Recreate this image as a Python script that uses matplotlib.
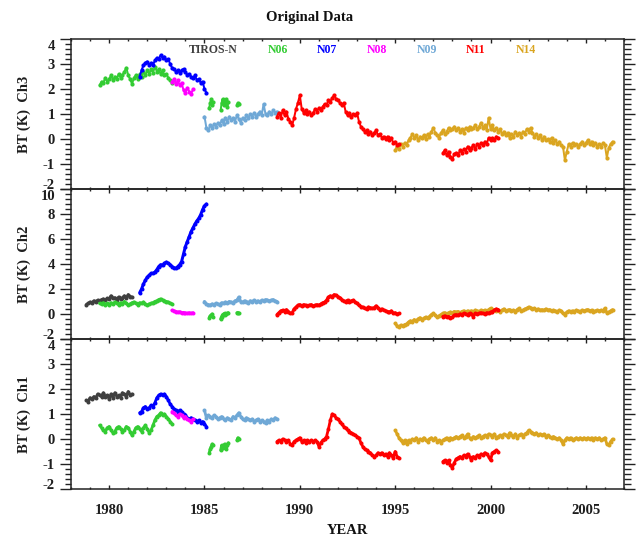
import numpy as np
import matplotlib
matplotlib.use('Agg')
import matplotlib.pyplot as plt
from matplotlib.ticker import MultipleLocator

# ---------------- data (BT anomalies, K) ----------------
satellites = ['TIROS-N', 'N06', 'N07', 'N08', 'N09', 'N11', 'N14']
sat_colors = ['#3f3f3f', '#33cc33', '#0000ff', '#ff00ff', '#6fa8d6', '#ff0000', '#daa520']

step = 0.1
tiros_start = 1978.8
n06a_start = 1979.5
n07_start = 1981.6
n08_start = 1983.3
n09_start = 1985.0
n11a_start = 1988.8
n11b_start = 1997.5
n14_start = 1995.0
n06b_years = [1985.25, 1985.3, 1985.35, 1985.4, 1985.45, 1985.85, 1985.9, 1985.95, 1986.0,
              1986.05, 1986.1, 1986.15, 1986.2, 1986.25, 1986.7, 1986.75, 1986.8]

# Channel 3
ch3_n06a = [2.15, 2.30, 2.25, 2.45, 2.30, 2.40, 2.55, 2.35, 2.50, 2.40, 2.60, 2.45, 2.55, 2.70,
            2.85, 2.55, 2.40, 2.20, 2.45, 2.55, 2.40, 2.60, 2.50, 2.70, 2.55, 2.75, 2.60, 2.80,
            2.65, 2.90, 2.70, 2.80, 2.60, 2.75, 2.55, 2.60, 2.45, 2.35, 2.25]
ch3_n07 = [2.50, 2.75, 2.95, 3.05, 3.10, 2.95, 3.05, 2.95, 3.15, 3.25, 3.20, 3.35, 3.25, 3.30,
           3.15, 3.20, 3.00, 2.85, 2.80, 2.70, 2.75, 2.65, 2.75, 2.80, 2.70, 2.55, 2.60, 2.50,
           2.45, 2.55, 2.35, 2.40, 2.25, 2.30, 2.00, 1.85]
ch3_n08 = [2.30, 2.40, 2.20, 2.35, 2.15, 2.25, 1.95, 1.85, 2.05, 1.90, 1.80, 2.00]
ch3_n06b = [1.25, 1.45, 1.60, 1.35, 1.50, 1.15, 1.45, 1.60, 1.35, 1.55, 1.40, 1.60, 1.30, 1.50,
            1.35, 1.45, 1.40]
ch3_n09 = [0.90, 0.45, 0.35, 0.55, 0.45, 0.60, 0.50, 0.65, 0.55, 0.75, 0.60, 0.85, 0.70, 0.90,
           0.75, 0.85, 0.70, 0.95, 0.80, 0.65, 0.85, 0.75, 0.95, 0.85, 1.00, 0.90, 1.05, 0.90,
           1.00, 1.10, 0.95, 1.40, 1.00, 0.95, 1.10, 1.00, 1.15, 1.05, 1.10]
ch3_n11a = [0.90, 1.05, 0.85, 1.15, 0.95, 1.10, 0.80, 0.70, 0.55, 0.85, 1.20, 1.45, 1.75, 1.20,
            1.05, 1.15, 1.00, 1.10, 0.95, 1.05, 1.20, 1.10, 1.25, 1.15, 1.30, 1.40, 1.35, 1.55,
            1.50, 1.65, 1.75, 1.60, 1.55, 1.45, 1.35, 1.45, 1.10, 0.95, 1.05, 0.90, 1.00, 0.95,
            1.05, 0.70, 0.50, 0.40, 0.30, 0.35, 0.20, 0.30, 0.15, 0.25, 0.35, 0.15, 0.20, 0.05,
            0.10, 0.00, 0.10, -0.05, 0.05, -0.15, -0.10, -0.25, -0.20]
ch3_n11b = [-0.55, -0.45, -0.65, -0.50, -0.70, -0.80, -0.60, -0.55, -0.65, -0.45, -0.55, -0.40,
            -0.50, -0.30, -0.45, -0.35, -0.25, -0.40, -0.20, -0.30, -0.15, -0.25, -0.10, -0.20,
            0.05, -0.05, 0.05, -0.05, 0.10, 0.05]
ch3_n14 = [-0.45, -0.30, -0.40, -0.20, -0.30, -0.15, -0.25, -0.05, 0.05, 0.20, 0.05, 0.15, -0.05,
           0.10, 0.05, 0.15, 0.00, 0.20, 0.10, 0.30, 0.45, 0.25, 0.15, 0.05, 0.25, 0.35, 0.20,
           0.30, 0.45, 0.35, 0.40, 0.50, 0.35, 0.45, 0.30, 0.40, 0.25, 0.45, 0.35, 0.50, 0.40,
           0.45, 0.55, 0.40, 0.50, 0.65, 0.45, 0.55, 0.35, 0.85, 0.40, 0.55, 0.35, 0.45, 0.30,
           0.40, 0.20, 0.30, 0.15, 0.25, 0.05, 0.20, 0.10, 0.30, 0.15, 0.25, 0.10, 0.30, 0.20,
           0.40, 0.30, 0.45, 0.25, 0.10, 0.20, 0.05, 0.15, -0.05, 0.10, -0.05, 0.00, -0.10, 0.05,
           -0.15, -0.05, -0.20, -0.10, -0.25, -0.30, -0.85, -0.50, -0.20, -0.30, -0.15, -0.25,
           -0.20, -0.30, -0.20, -0.10, -0.25, -0.15, -0.05, -0.20, -0.10, -0.25, -0.15, -0.30,
           -0.20, -0.30, -0.15, -0.25, -0.75, -0.35, -0.20, -0.10]

# Channel 2
ch2_tiros = [0.75, 0.85, 0.95, 0.90, 1.05, 1.00, 1.10, 1.05, 1.15, 1.20, 1.10, 1.25, 1.20, 1.45,
             1.25, 1.30, 1.15, 1.35, 1.20, 1.30, 1.45, 1.25, 1.55, 1.40, 1.35]
ch2_n06a = [0.85, 0.80, 0.90, 0.75, 0.85, 0.70, 0.90, 0.80, 0.95, 0.85, 0.75, 0.90, 0.80, 1.00,
            0.85, 0.70, 0.80, 0.90, 0.95, 0.85, 0.75, 0.90, 0.85, 0.95, 0.80, 0.70, 0.80, 0.85,
            0.90, 1.00, 1.05, 1.15, 1.20, 1.10, 1.05, 1.00, 0.95, 0.85, 0.80]
ch2_n07 = [1.70, 2.00, 2.40, 2.70, 2.95, 3.10, 3.25, 3.25, 3.35, 3.55, 3.80, 3.95, 3.90, 4.05,
           4.15, 4.05, 3.95, 3.80, 3.70, 3.65, 3.80, 3.95, 4.20, 4.80, 5.40, 5.80, 6.20, 6.60,
           6.90, 7.20, 7.45, 7.65, 7.95, 8.35, 8.65, 8.80]
ch2_n08 = [0.30, 0.25, 0.20, 0.15, 0.18, 0.10, 0.12, 0.08, 0.05, 0.10, 0.05, 0.10]
ch2_n06b = [-0.30, -0.15, -0.10, 0.00, -0.25, -0.40, -0.20, -0.05, 0.00, 0.05, -0.10, 0.00, 0.05,
            0.10, 0.10, 0.12, 0.08]
ch2_n09 = [1.00, 0.80, 0.75, 0.70, 0.80, 0.75, 0.85, 0.80, 0.75, 0.90, 0.85, 0.95, 0.90, 1.00,
           0.95, 0.90, 1.05, 1.10, 1.35, 1.00, 0.95, 1.05, 1.00, 0.90, 1.05, 1.00, 1.10, 1.00,
           1.05, 0.95, 1.10, 1.05, 1.15, 1.10, 1.05, 1.10, 1.15, 1.05, 1.00]
ch2_n11a = [-0.05, 0.10, 0.25, 0.30, 0.20, 0.35, 0.20, 0.05, 0.10, 0.40, 0.55, 0.70, 0.75, 0.65,
            0.75, 0.70, 0.65, 0.70, 0.75, 0.65, 0.70, 0.75, 0.70, 0.80, 0.90, 0.95, 1.10, 1.35,
            1.45, 1.40, 1.55, 1.50, 1.40, 1.30, 1.15, 1.05, 1.00, 1.10, 0.95, 1.05, 1.10, 0.95,
            0.85, 0.70, 0.60, 0.55, 0.45, 0.40, 0.55, 0.50, 0.45, 0.50, 0.65, 0.50, 0.35, 0.40,
            0.30, 0.25, 0.20, 0.15, 0.25, 0.05, 0.10, 0.00, 0.05]
ch2_n11b = [-0.20, -0.15, -0.25, -0.20, -0.30, -0.25, -0.10, -0.05, -0.10, 0.00, -0.05, 0.05, 0.00,
            -0.05, 0.05, 0.00, -0.20, 0.05, 0.00, 0.05, 0.10, 0.05, 0.00, 0.10, 0.05, 0.15, 0.20,
            0.30, 0.40, 0.35]
ch2_n14 = [-0.75, -0.95, -1.00, -0.90, -0.95, -0.85, -0.80, -0.65, -0.55, -0.60, -0.45, -0.55,
           -0.40, -0.30, -0.45, -0.35, -0.25, -0.35, -0.20, -0.05, 0.05, -0.10, -0.25, -0.15,
           -0.05, 0.05, 0.10, 0.00, 0.10, 0.15, 0.10, 0.20, 0.15, 0.20, 0.10, 0.20, 0.25, 0.15,
           0.25, 0.20, 0.25, 0.20, 0.30, 0.25, 0.20, 0.30, 0.25, 0.30, 0.20, 0.35, 0.45, 0.30,
           0.35, 0.25, 0.30, 0.20, 0.30, 0.40, 0.25, 0.30, 0.35, 0.25, 0.30, 0.20, 0.35, 0.45,
           0.25, 0.30, 0.40, 0.45, 0.55, 0.50, 0.40, 0.45, 0.35, 0.40, 0.30, 0.35, 0.30, 0.40,
           0.30, 0.35, 0.25, 0.30, 0.25, 0.20, 0.30, 0.25, 0.05, -0.05, 0.15, 0.25, 0.20, 0.25,
           0.20, 0.30, 0.25, 0.20, 0.30, 0.25, 0.30, 0.35, 0.25, 0.30, 0.20, 0.25, 0.30, 0.25,
           0.30, 0.25, 0.45, 0.10, 0.15, 0.25, 0.35]

# Channel 1
ch1_tiros = [1.55, 1.50, 1.65, 1.60, 1.70, 1.65, 1.80, 1.75, 1.70, 1.85, 1.70, 1.75, 1.60, 1.80,
             1.65, 1.85, 1.70, 1.75, 1.65, 1.85, 1.80, 1.70, 1.90, 1.75, 1.80]
ch1_n06a = [0.55, 0.45, 0.35, 0.30, 0.45, 0.50, 0.35, 0.25, 0.30, 0.45, 0.50, 0.40, 0.30, 0.35,
            0.50, 0.45, 0.30, 0.15, 0.30, 0.45, 0.50, 0.40, 0.30, 0.45, 0.55, 0.40, 0.25, 0.35,
            0.55, 0.75, 0.90, 0.95, 1.05, 0.95, 1.00, 0.90, 0.80, 0.70, 0.60]
ch1_n07 = [1.05, 1.10, 1.25, 1.30, 1.20, 1.25, 1.35, 1.30, 1.45, 1.65, 1.75, 1.80, 1.75, 1.80,
           1.70, 1.55, 1.40, 1.30, 1.20, 1.15, 1.10, 1.15, 1.10, 1.00, 0.95, 0.85, 0.80, 0.85,
           0.80, 0.75, 0.70, 0.75, 0.65, 0.70, 0.60, 0.50]
ch1_n08 = [1.10, 1.05, 0.95, 0.90, 1.00, 0.95, 0.85, 0.90, 0.80, 0.75, 0.70, 0.80]
ch1_n06b = [-0.55, -0.40, -0.30, -0.20, -0.25, -0.45, -0.25, -0.35, -0.30, -0.20, -0.30, -0.40,
            -0.25, -0.15, -0.05, 0.05, 0.00]
ch1_n09 = [1.15, 0.85, 0.95, 0.90, 0.85, 0.95, 0.90, 0.80, 0.85, 0.90, 0.80, 0.75, 0.85, 0.80,
           0.75, 0.90, 0.85, 0.95, 1.05, 0.90, 0.80, 0.75, 0.85, 0.80, 0.75, 0.80, 0.70, 0.75,
           0.80, 0.70, 0.75, 0.70, 0.65, 0.75, 0.70, 0.80, 0.75, 0.85, 0.80]
ch1_n11a = [-0.10, -0.05, -0.10, 0.00, -0.05, -0.10, -0.05, -0.20, -0.25, -0.10, -0.05, 0.00, 0.05,
            -0.10, -0.05, -0.15, -0.05, -0.10, -0.05, -0.10, -0.05, -0.10, -0.30, -0.15, -0.05,
            0.00, 0.10, 0.40, 0.75, 1.00, 0.95, 0.85, 0.80, 0.70, 0.60, 0.50, 0.45, 0.35, 0.30,
            0.25, 0.20, 0.15, 0.10, 0.05, -0.15, -0.30, -0.40, -0.45, -0.50, -0.55, -0.65, -0.70,
            -0.65, -0.55, -0.60, -0.55, -0.65, -0.60, -0.70, -0.55, -0.65, -0.75, -0.50, -0.70,
            -0.75]
ch1_n11b = [-0.90, -0.85, -0.95, -0.85, -1.05, -1.15, -0.95, -0.80, -0.75, -0.70, -0.75, -0.65,
            -0.70, -0.60, -0.70, -0.85, -0.70, -0.75, -0.65, -0.70, -0.60, -0.65, -0.55, -0.60,
            -0.70, -0.85, -0.55, -0.50, -0.45, -0.50]
ch1_n14 = [0.35, 0.20, 0.05, -0.05, -0.15, -0.05, -0.20, -0.05, -0.10, 0.00, -0.05, 0.05, -0.10,
           0.00, -0.05, 0.05, -0.05, -0.10, 0.00, 0.05, -0.05, 0.05, -0.10, -0.05, -0.15, -0.05,
           0.00, 0.05, -0.05, 0.05, 0.00, 0.05, 0.10, 0.05, 0.10, 0.15, 0.05, 0.10, 0.20, 0.05,
           0.00, 0.10, 0.05, 0.10, 0.15, 0.05, 0.10, 0.15, 0.10, 0.20, 0.15, 0.10, 0.20, 0.05,
           0.10, 0.15, 0.10, 0.20, 0.15, 0.10, 0.25, 0.15, 0.10, 0.20, 0.05, 0.15, 0.20, 0.10,
           0.20, 0.25, 0.35, 0.30, 0.25, 0.20, 0.25, 0.15, 0.20, 0.15, 0.20, 0.10, 0.15, 0.10,
           0.05, 0.10, 0.05, 0.00, 0.05, -0.05, -0.20, -0.05, 0.05, 0.00, 0.05, -0.05, 0.00, 0.05,
           0.00, 0.05, 0.00, 0.05, 0.00, 0.05, 0.00, 0.05, -0.05, 0.05, 0.00, 0.05, -0.05, 0.00,
           0.05, -0.20, -0.25, -0.10, 0.00]


def yrs(start, vals):
    return np.round(start + step * np.arange(len(vals)), 3)


# (satellite index, years, values) in drawing order
panels = [
    dict(label='BT (K)  Ch3', ylim=(-2, 4), major=1, minor=0.2, lw=2.0, ms=4.2, series=[
        (1, yrs(n06a_start, ch3_n06a), ch3_n06a),
        (2, yrs(n07_start, ch3_n07), ch3_n07),
        (3, yrs(n08_start, ch3_n08), ch3_n08),
        (1, n06b_years, ch3_n06b),
        (4, yrs(n09_start, ch3_n09), ch3_n09),
        (6, yrs(n14_start, ch3_n14), ch3_n14),
        (5, yrs(n11a_start, ch3_n11a), ch3_n11a),
        (5, yrs(n11b_start, ch3_n11b), ch3_n11b)]),
    dict(label='BT (K)  Ch2', ylim=(-2, 10), major=2, minor=0.4, lw=3.0, ms=4.0, series=[
        (0, yrs(tiros_start, ch2_tiros), ch2_tiros),
        (1, yrs(n06a_start, ch2_n06a), ch2_n06a),
        (2, yrs(n07_start, ch2_n07), ch2_n07),
        (3, yrs(n08_start, ch2_n08), ch2_n08),
        (1, n06b_years, ch2_n06b),
        (4, yrs(n09_start, ch2_n09), ch2_n09),
        (6, yrs(n14_start, ch2_n14), ch2_n14),
        (5, yrs(n11a_start, ch2_n11a), ch2_n11a),
        (5, yrs(n11b_start, ch2_n11b), ch2_n11b)]),
    dict(label='BT (K)  Ch1', ylim=(-2, 4), major=1, minor=0.2, lw=2.8, ms=4.0, series=[
        (0, yrs(tiros_start, ch1_tiros), ch1_tiros),
        (1, yrs(n06a_start, ch1_n06a), ch1_n06a),
        (2, yrs(n07_start, ch1_n07), ch1_n07),
        (3, yrs(n08_start, ch1_n08), ch1_n08),
        (1, n06b_years, ch1_n06b),
        (4, yrs(n09_start, ch1_n09), ch1_n09),
        (6, yrs(n14_start, ch1_n14), ch1_n14),
        (5, yrs(n11a_start, ch1_n11a), ch1_n11a),
        (5, yrs(n11b_start, ch1_n11b), ch1_n11b)]),
]


def split_gaps(x, y, gap=0.15):
    """Insert NaN where the sampling has a gap, so lines are not joined across it."""
    x = np.asarray(x, float)
    y = np.asarray(y, float)
    xs, ys = [x[0]], [y[0]]
    for i in range(1, len(x)):
        if x[i] - x[i - 1] > gap:
            xs.append(np.nan)
            ys.append(np.nan)
        xs.append(x[i])
        ys.append(y[i])
    return np.array(xs), np.array(ys)


# ---------------- figure ----------------
W, H = 638, 536
FONT = 'Liberation Serif'
plt.rcParams['font.family'] = [FONT, 'DejaVu Serif']
plt.rcParams['font.weight'] = 'bold'
fig = plt.figure(figsize=(W / 100, H / 100), dpi=100)

left_px, right_px = 71, 624
tops = [39, 189, 339]
ph = 150
PT = 0.72  # points per pixel
txt_color = '#1e1e1e'

axes = []
for i, p in enumerate(panels):
    t = tops[i]
    ax = fig.add_axes([left_px / W, 1 - (t + ph) / H, (right_px - left_px) / W, ph / H])
    axes.append(ax)
    for sat, x, y in p['series']:
        xs, ys = split_gaps(x, y)
        ax.plot(xs, ys, '-', color=sat_colors[sat], lw=p['lw'] * PT, zorder=3,
                solid_joinstyle='round', solid_capstyle='round')
        ax.plot(x, y, 'o', color=sat_colors[sat], ms=p['ms'] * PT, mew=0, zorder=3)
    ax.set_xlim(1978, 2007)
    lo, hi = p['ylim']
    ax.set_ylim(lo, hi)
    ax.xaxis.set_major_locator(MultipleLocator(5))
    ax.xaxis.set_minor_locator(MultipleLocator(1))
    ax.yaxis.set_major_locator(MultipleLocator(p['major']))
    ax.yaxis.set_minor_locator(MultipleLocator(p['minor']))
    ax.tick_params(axis='x', which='major', direction='in', top=True, bottom=True,
                   length=4 * PT, width=1.0, color='#222222')
    ax.tick_params(axis='x', which='minor', direction='in', top=True, bottom=True,
                   length=2.5 * PT, width=1.0, color='#222222')
    ax.tick_params(axis='y', which='major', direction='out', left=True, right=True,
                   length=11 * PT, width=1.0, color='#222222', labelleft=False)
    ax.tick_params(axis='y', which='minor', direction='out', left=True, right=True,
                   length=6.5 * PT, width=1.0, color='#222222')
    for s in ax.spines.values():
        s.set_linewidth(1.1)
        s.set_color('#222222')
    ax.set_facecolor('none')
    # y tick labels (end labels nudged inward as in the original)
    vals = np.arange(lo, hi + 1e-9, p['major'])
    for v in vals:
        dy = 0
        if v == lo:
            dy = 4.5
        elif v == hi:
            dy = -6.5
        ax.annotate(f'{v:g}', xy=(0, v), xycoords=('axes fraction', 'data'),
                    xytext=(-16 * PT, dy * PT - 1.0), textcoords='offset points',
                    ha='right', va='center', fontsize=10.5, fontweight='bold',
                    color=txt_color, family=FONT, annotation_clip=False)
    fig.text(24 / W, 1 - (t + ph / 2) / H, p['label'], rotation=90, ha='center', va='center',
             fontsize=10.5, fontweight='bold', color=txt_color, family=FONT)
    if i < 2:
        ax.tick_params(axis='x', labelbottom=False)
    else:
        ax.tick_params(axis='x', labelbottom=True, pad=11, labelsize=10.5,
                       labelcolor=txt_color)
        for lab in ax.get_xticklabels():
            lab.set_fontweight('bold')
            lab.set_family(FONT)

# legend texts in top panel
legend_left_px = [189, 268, 317, 367, 417, 466, 516]
for name, col, lx in zip(satellites, sat_colors, legend_left_px):
    fig.text(lx / W, 1 - 50 / H, name, ha='left', va='center', fontsize=8.5,
             fontweight='bold', color=col, family=FONT)

fig.text(310 / W, 1 - 18 / H, 'Original Data', ha='center', va='center', fontsize=10.5,
         fontweight='bold', color='#111111', family=FONT)
fig.text(347 / W, 1 - 531 / H, 'YEAR', ha='center', va='center', fontsize=10.5,
         fontweight='bold', color='#111111', family=FONT)

fig.savefig('out.png', dpi=100)
